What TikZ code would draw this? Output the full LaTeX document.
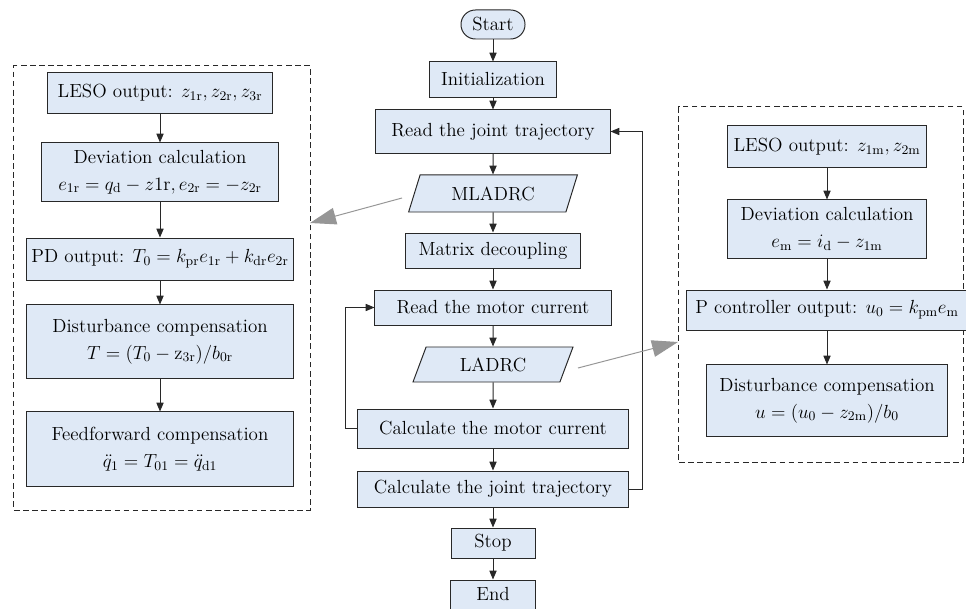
\RequirePackage{fix-cm}
\documentclass[tikz,border=0pt]{standalone}
\usepackage{amsmath}
\usepackage{fontspec}
\usepackage{tikz}
\usetikzlibrary{
    arrows.meta,
    positioning,
    shapes.geometric
}
\definecolor{boxFill}{RGB}{223,233,246}
\definecolor{boxLine}{RGB}{40,40,40}
\definecolor{hintGray}{RGB}{150,150,150}
\tikzset{
  proc/.style  = {draw=boxLine, fill=boxFill, line width=0.7pt, align=center,
                  inner sep=1pt, font=\fontsize{13.5}{19}\selectfont},
  term/.style  = {proc, rounded corners=0.36cm},
  io/.style    = {proc, trapezium, trapezium left angle=68,
                  trapezium right angle=112, trapezium stretches=true},
  grp/.style   = {draw=boxLine, dash pattern=on 4pt off 2.5pt, line width=0.7pt},
  arr/.style   = {-{Triangle[length=2.2mm,width=1.8mm]}, boxLine, line width=0.7pt},
  arrg/.style  = {-{Triangle[length=6.5mm,width=4.2mm]}, hintGray, line width=0.7pt}
}

\begin{document}
\begin{tikzpicture}[x=0.025cm, y=-0.025cm]
    \useasboundingbox (0,0) rectangle (966,609);

    % dashed groups
    \node[grp, minimum width=7.4cm, minimum height=11.1cm]  (grpr) at (162,288)   {};
    \node[grp, minimum width=7.1cm, minimum height=8.875cm] (grpm) at (821,284.5) {};

    % main flow
    \node[term, minimum width=1.6cm,   minimum height=0.725cm] (start) at (493,24.5)  {Start};
    \node[proc, minimum width=3.15cm,  minimum height=0.875cm] (init)  at (493,79.5)  {Initialization};
    \node[proc, minimum width=5.85cm,  minimum height=1.075cm] (readj) at (493,131.5) {Read the joint trajectory};
    \node[io,   minimum width=4.25cm,  minimum height=0.925cm] (mladrc) at (493,193.5) {MLADRC};
    \node[proc, minimum width=4.375cm, minimum height=0.875cm] (matrix) at (493,250.5) {Matrix decoupling};
    \node[proc, minimum width=5.9cm,   minimum height=0.875cm] (readm) at (493,307.5) {Read the motor current};
    \node[io,   minimum width=4.0cm,   minimum height=0.875cm] (ladrc) at (493,364.5) {LADRC};
    \node[proc, minimum width=6.775cm, minimum height=0.975cm] (calcm) at (493,428.5) {Calculate the motor current};
    \node[proc, minimum width=6.775cm, minimum height=0.9cm]   (calcj) at (493,489)   {Calculate the joint trajectory};
    \node[proc, minimum width=2.1cm,   minimum height=0.75cm]  (stop)  at (493,543)   {Stop};
    \node[proc, minimum width=2.125cm, minimum height=0.725cm] (endn)  at (493,594.5) {End};

    % joint loop (MLADRC)
    \node[proc, minimum width=5.6cm,  minimum height=1.0cm]   (lesor) at (160,93)    {LESO output: $z_{\mathrm{1r}}, z_{\mathrm{2r}}, z_{\mathrm{3r}}$};
    \node[proc, minimum width=5.925cm, minimum height=1.45cm] (devr)  at (160,172)   {Deviation calculation\\
      $e_{\mathrm{1r}} = q_{\mathrm{d}} - z\mathrm{1r}, e_{\mathrm{2r}} = -z_{\mathrm{2r}}$};
    \node[proc, minimum width=6.65cm, minimum height=1.05cm]  (pdr)   at (160,259)   {PD output: $T_0 = k_{\mathrm{pr}}e_{\mathrm{1r}} + k_{\mathrm{dr}}e_{\mathrm{2r}}$};
    \node[proc, minimum width=6.65cm, minimum height=1.825cm] (distr) at (160,341.5) {Disturbance compensation\\
      $T = (T_0 - \mathrm{z}_{\mathrm{3r}})/b_{\mathrm{0r}}$};
    \node[proc, minimum width=6.65cm, minimum height=1.85cm]  (ffr)   at (160,449)   {Feedforward compensation\\
      $\ddot{q}_1 = T_{01} = \ddot{q}_{\mathrm{d1}}$};

    % current loop (LADRC)
    \node[proc, minimum width=4.975cm, minimum height=1.025cm] (lesom) at (827,146.5) {LESO output: $z_{\mathrm{1m}}, z_{\mathrm{2m}}$};
    \node[proc, minimum width=4.975cm, minimum height=1.45cm]  (devm)  at (827,229)   {Deviation calculation\\
      $e_{\mathrm{m}} = i_{\mathrm{d}} - z_{\mathrm{1m}}$};
    \node[proc, minimum width=7.0cm,   minimum height=1.0cm]   (pm)    at (827,310)   {P controller output: $u_0 = k_{\mathrm{pm}}e_{\mathrm{m}}$};
    \node[proc, minimum width=6.025cm, minimum height=1.775cm] (distm) at (827,400.5) {Disturbance compensation\\
      $u = (u_0 - z_{\mathrm{2m}})/b_0$};

    % straight arrows
    \foreach \a/\b in {start/init, init/readj, readj/mladrc, mladrc/matrix,
                       matrix/readm, readm/ladrc, ladrc/calcm, calcm/calcj,
                       calcj/stop, stop/endn,
                       lesor/devr, devr/pdr, pdr/distr, distr/ffr,
                       lesom/devm, devm/pm, pm/distm}
      \draw[arr] (\a) -- (\b);

    % feedback loops
    \coordinate (lloop) at (345,0);
    \coordinate (rloop) at (642,0);
    \draw[arr] (calcm.west) -- (calcm.west -| lloop) |- (readm.west);
    \draw[arr] (calcj.east) -- (calcj.east -| rloop) |- (readj.east);

    % hints to the detail groups
    \coordinate (mlout) at (402,198);
    \coordinate (mlin)  at (310,223);
    \coordinate (laout) at (578,368);
    \coordinate (lain)  at (678,342);
    \draw[arrg] (mlout) -- (mlin);
    \draw[arrg] (laout) -- (lain);
\end{tikzpicture}
\end{document}
